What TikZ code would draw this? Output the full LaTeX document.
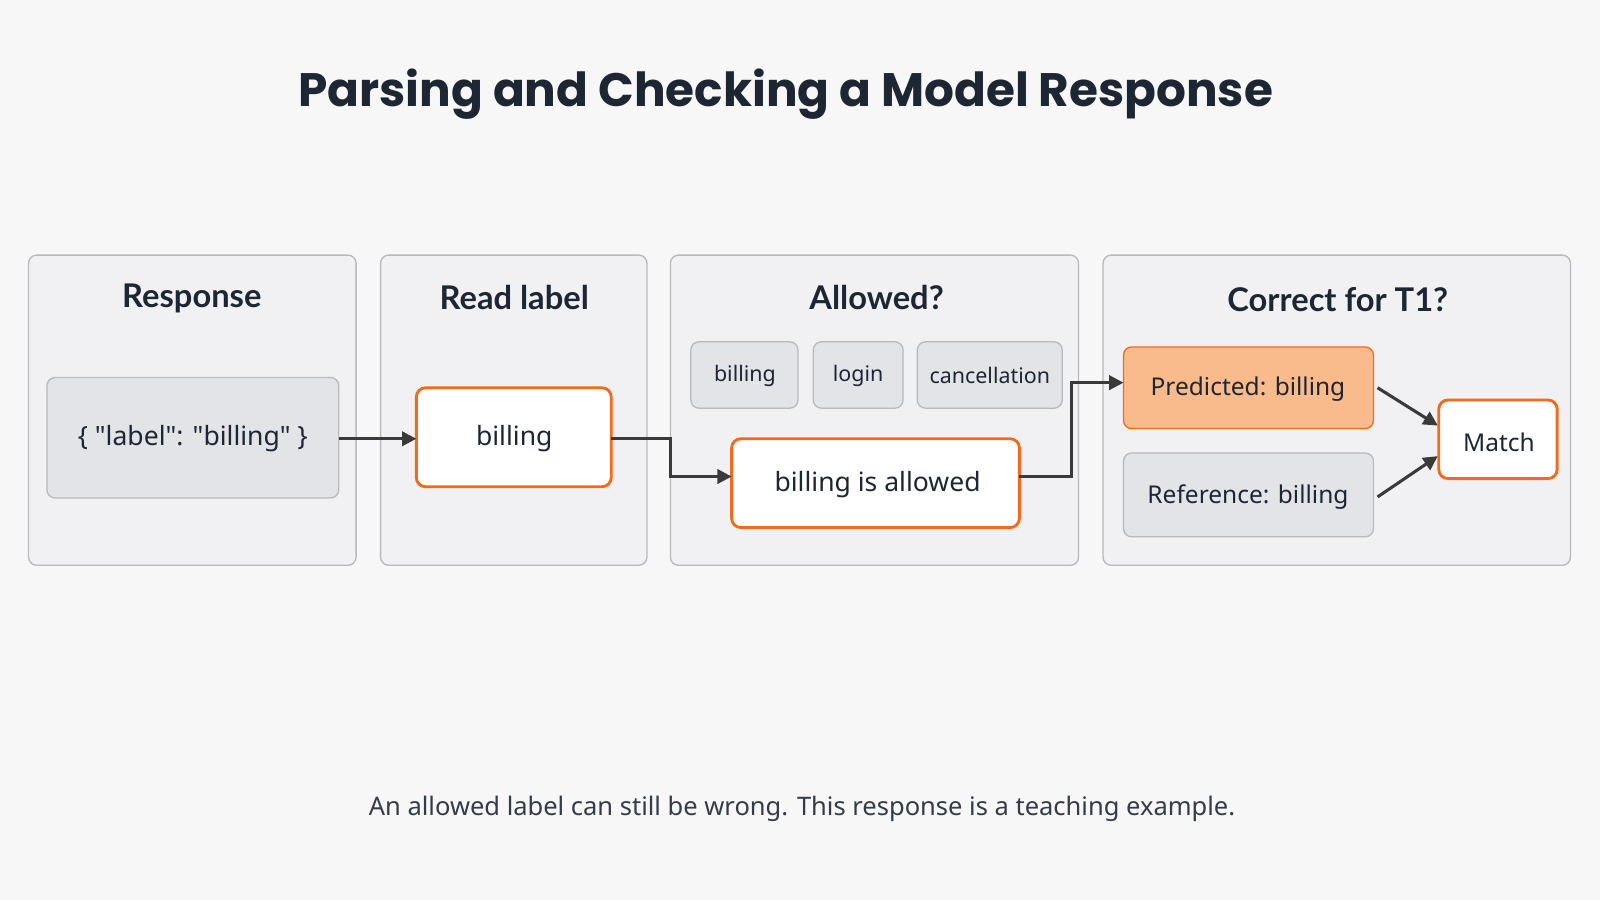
\documentclass[tikz,border=0pt]{standalone}
\usepackage{fontspec}
\setmainfont{Noto Sans}[Ligatures=TeXOff]
\newfontfamily\titlefont{Poppins}
\newfontfamily\headfont{Lato}
\usetikzlibrary{arrows.meta}
\definecolor{panelfill}{HTML}{F1F1F3}
\definecolor{panelline}{HTML}{B9B9BE}
\definecolor{boxfill}{HTML}{E3E4E7}
\definecolor{orng}{HTML}{F26B1D}
\definecolor{peach}{HTML}{F9BA8C}
\definecolor{ink}{HTML}{1F2633}
\definecolor{arr}{HTML}{3A3A3A}
\newcommand{\dq}{\symbol{34}}
\begin{document}
\begin{tikzpicture}[x=1pt,y=-1pt,
 panel/.style={draw=panelline,fill=panelfill,line width=1.3pt,rounded corners=8pt},
 gbox/.style={draw=panelline,fill=boxfill,line width=1.3pt,rounded corners=8pt},
 obox/.style={draw=orng,fill=white,line width=2.8pt,rounded corners=9pt},
 head/.style={font=\headfont\fontsize{32}{36}\selectfont\bfseries,text=ink},
 txt/.style={font=\fontsize{26}{30}\selectfont,text=ink},
 small/.style={font=\fontsize{21}{25}\selectfont,text=ink},
 conn/.style={draw=arr,line width=3pt,-{Triangle[length=14pt,width=14pt]}}]
\fill[white!97!black] (0,0) rectangle (1568,882);
\useasboundingbox (0,0) rectangle (1568,882);
\node[font=\titlefont\fontsize{46}{52}\selectfont\bfseries,text=ink] (title) at (770,92) {Parsing and Checking a Model Response};
% panels
\draw[panel] (28,250) rectangle (349,554);
\draw[panel] (373,250) rectangle (634,554);
\draw[panel] (657,250) rectangle (1057,554);
\draw[panel] (1081,250) rectangle (1539,554);
\node[head] (h1) at (188,292) {Response};
\node[head] (h2) at (504,292) {Read label};
\node[head] (h3) at (859,292) {Allowed?};
\node[head] (h4) at (1311,294) {Correct for T1?};
% boxes
\draw[gbox] (46,370) rectangle (332,488);
\node[txt] (json) at (189,430) {\{ \dq label\dq: \dq billing\dq\ \}};
\coordinate (jsonE) at (332,430);
\draw[obox] (408,380) rectangle (599,477);
\node[txt] (bill) at (504,430) {billing};
\coordinate (billW) at (408,430);
\coordinate (billE) at (599,430);
\draw[gbox] (677,335) rectangle (782,400);
\node[small] (c1) at (730,368) {billing};
\draw[gbox] (797,335) rectangle (885,400);
\node[small] (c2) at (841,368) {login};
\draw[gbox] (899,335) rectangle (1041,400);
\node[small] (c3) at (970,368) {cancellation};
\draw[obox] (717,430) rectangle (999,517);
\node[txt] (allow) at (860,475) {billing is allowed};
\coordinate (allowW) at (717,467);
\coordinate (allowE) at (999,467);
\draw[draw=orng,fill=peach,line width=1.3pt,rounded corners=8pt] (1101,340) rectangle (1346,420);
\node[txt,font=\fontsize{24}{28}\selectfont] (pred) at (1223,381) {Predicted: billing};
\coordinate (predW) at (1101,375);
\coordinate (predE) at (1350,380);
\draw[gbox] (1101,444) rectangle (1346,526);
\node[txt,font=\fontsize{24}{28}\selectfont] (ref) at (1223,487) {Reference: billing};
\coordinate (refE) at (1350,487);
\draw[obox] (1410,392) rectangle (1526,469);
\node[txt,font=\fontsize{24}{28}\selectfont] (match) at (1469,433) {Match};
\coordinate (matchA) at (1409,417);
\coordinate (matchB) at (1409,447);
% connectors
\draw[conn] (jsonE) -- (billW);
\draw[conn] (billE) -- (657,430) -- (657,467) -- (allowW);
\draw[conn] (allowE) -- (1050,467) -- (1050,375) -- (predW);
\draw[conn] (predE) -- (matchA);
\draw[conn] (refE) -- (matchB);
\node[txt,font=\fontsize{25}{30}\selectfont,text=ink!90] (foot) at (786,793) {An allowed label can still be wrong. This response is a teaching example.};
\end{tikzpicture}
\end{document}
